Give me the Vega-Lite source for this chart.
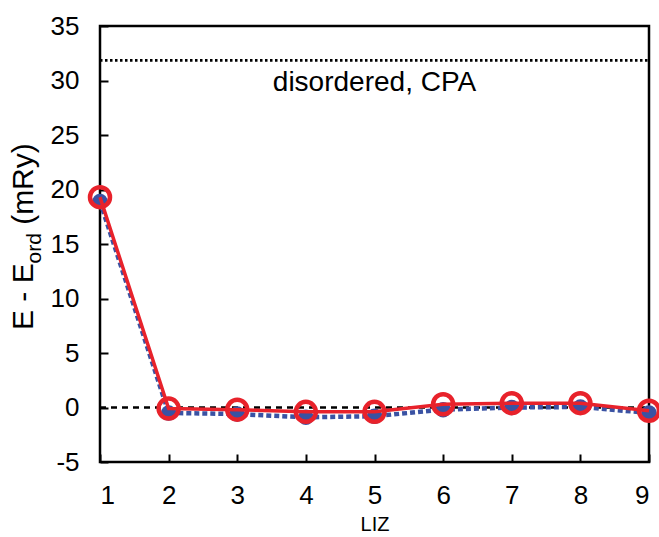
{
  "$schema": "https://vega.github.io/schema/vega-lite/v6.json",
  "width": 549,
  "height": 436,
  "autosize": "none",
  "padding": {"left": 100, "top": 26, "right": 10, "bottom": 75},
  "background": "white",
  "config": {
    "font": "Liberation Sans",
    "view": {"stroke": "black", "strokeWidth": 2.5},
    "text": {"font": "Liberation Sans", "fontWeight": "normal"},
    "axis": {"grid": false, "domain": false, "tickColor": "black", "tickWidth": 2, "labelColor": "black", "labelFont": "Liberation Sans", "titleFont": "Liberation Sans", "titleColor": "black", "titleFontWeight": "normal"}
  },
  "data": {"values": [
    {"LIZ": 1, "red": 19.3, "blue": 18.9},
    {"LIZ": 2, "red": -0.1, "blue": -0.5},
    {"LIZ": 3, "red": -0.2, "blue": -0.6},
    {"LIZ": 4, "red": -0.4, "blue": -0.9},
    {"LIZ": 5, "red": -0.4, "blue": -0.8},
    {"LIZ": 6, "red": 0.3, "blue": -0.2},
    {"LIZ": 7, "red": 0.4, "blue": 0.0},
    {"LIZ": 8, "red": 0.4, "blue": 0.05},
    {"LIZ": 9, "red": -0.3, "blue": -0.5}
  ]},
  "encoding": {
    "x": {"field": "LIZ", "type": "quantitative", "scale": {"domain": [1, 9], "nice": false, "zero": false},
      "axis": {"values": [1,2,3,4,5,6,7,8,9], "tickSize": -8, "labelPadding": 28, "labelFontSize": 26, "title": "LIZ", "titleFontSize": 20, "titlePadding": 6}}
  },
  "layer": [
    {
      "transform": [{"filter": "datum.LIZ == 1"}],
      "mark": {"type": "rule", "strokeDash": [6, 5], "strokeWidth": 2.5, "color": "black"},
      "encoding": {"x": {"datum": 1}, "x2": {"datum": 9}, "y": {"datum": 0, "type": "quantitative", "scale": {"domain": [-5, 35], "nice": false}, "axis": {"values": [-5,0,5,10,15,20,25,30,35], "tickSize": -8, "labelPadding": 29, "labelFontSize": 26, "labelExpr": "replace(datum.label, '−', '-')", "title": null}}}
    },
    {
      "transform": [{"filter": "datum.LIZ == 1"}],
      "mark": {"type": "rule", "strokeDash": [2.5, 2.5], "strokeWidth": 2.8, "color": "black"},
      "encoding": {"x": {"datum": 1}, "x2": {"datum": 9}, "y": {"datum": 31.85, "type": "quantitative"}}
    },
    {
      "transform": [{"filter": "datum.LIZ == 1"}],
      "mark": {"type": "text", "text": "disordered, CPA", "fontSize": 28, "fontWeight": "normal", "align": "center", "baseline": "middle", "color": "black"},
      "encoding": {"x": {"datum": 5}, "y": {"datum": 29.8, "type": "quantitative"}}
    },
    {
      "mark": {"type": "line", "color": "#3a52a3", "strokeWidth": 4.5, "strokeDash": [5, 3]},
      "encoding": {"y": {"field": "blue", "type": "quantitative"}}
    },
    {
      "mark": {"type": "point", "filled": true, "color": "#3a52a3", "size": 240, "opacity": 1},
      "encoding": {"y": {"field": "blue", "type": "quantitative"}}
    },
    {
      "mark": {"type": "line", "color": "#e8222b", "strokeWidth": 3.5},
      "encoding": {"y": {"field": "red", "type": "quantitative"}}
    },
    {
      "mark": {"type": "point", "filled": false, "color": "#e8222b", "size": 400, "strokeWidth": 4.5, "opacity": 1},
      "encoding": {"y": {"field": "red", "type": "quantitative"}}
    },
    {
      "transform": [{"filter": "datum.LIZ == 1"}],
      "mark": {"type": "text", "text": "E - E", "fontSize": 30, "fontWeight": "normal", "angle": 270, "align": "center", "baseline": "alphabetic", "color": "black"},
      "encoding": {"x": {"datum": 0.024}, "y": {"datum": 10.17, "type": "quantitative"}}
    },
    {
      "transform": [{"filter": "datum.LIZ == 1"}],
      "mark": {"type": "text", "text": "ord", "fontSize": 21, "fontWeight": "normal", "angle": 270, "align": "center", "baseline": "alphabetic", "color": "black"},
      "encoding": {"x": {"datum": 0.14}, "y": {"datum": 14.6, "type": "quantitative"}}
    },
    {
      "transform": [{"filter": "datum.LIZ == 1"}],
      "mark": {"type": "text", "text": "(mRy)", "fontSize": 30, "fontWeight": "normal", "angle": 270, "align": "center", "baseline": "alphabetic", "color": "black"},
      "encoding": {"x": {"datum": 0.024}, "y": {"datum": 20.5, "type": "quantitative"}}
    }
  ]
}
